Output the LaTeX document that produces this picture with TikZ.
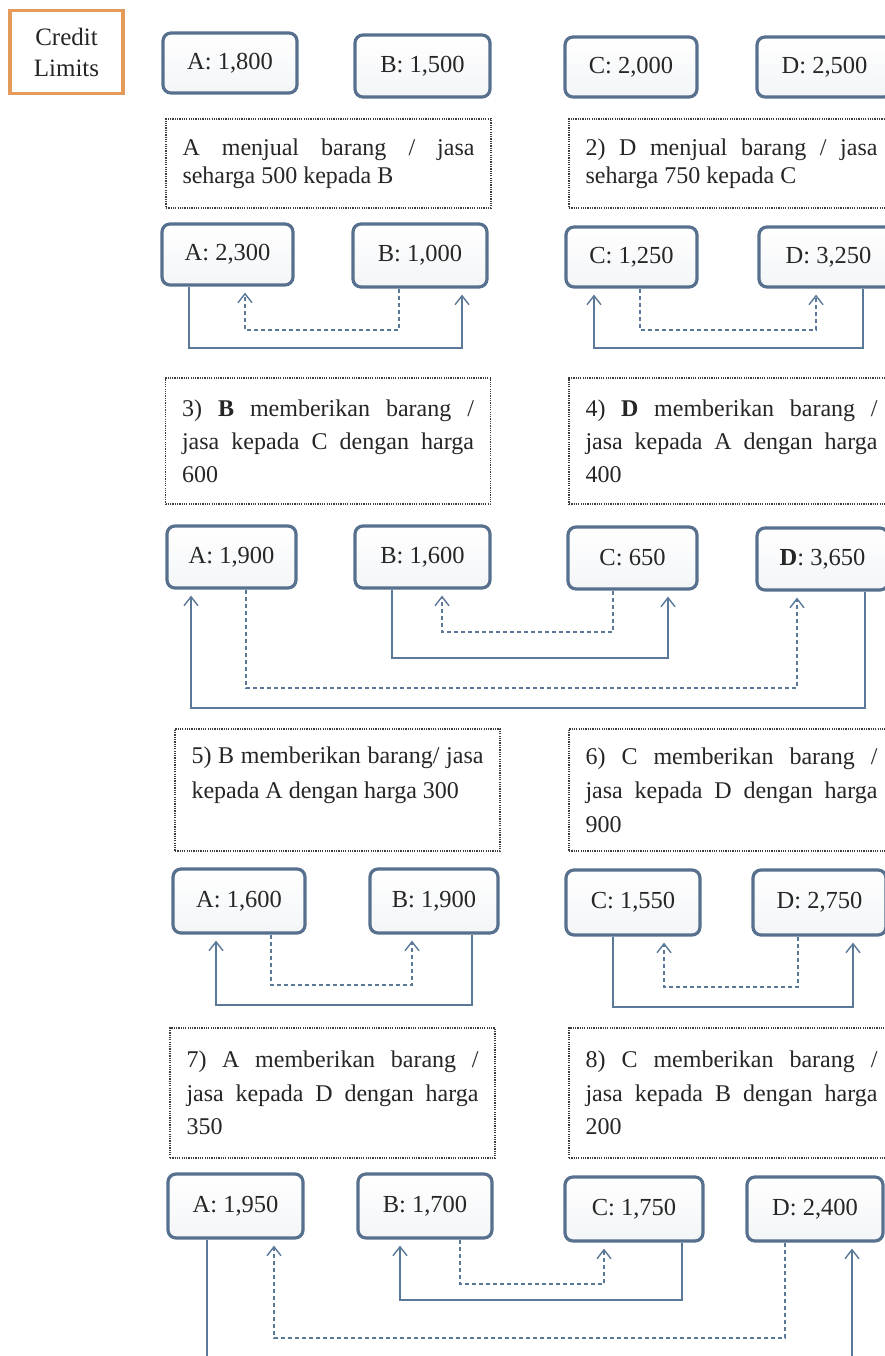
\documentclass[tikz,border=0pt]{standalone}
\usepackage{fontspec}
\setmainfont{Liberation Serif}
\usetikzlibrary{arrows.meta}
\definecolor{boxblue}{HTML}{56708E}
\definecolor{linkblue}{HTML}{5A7898}
\definecolor{txt}{HTML}{262626}
\definecolor{orangeb}{HTML}{E49A58}
\definecolor{dotgray}{HTML}{3E3E3E}
\hbadness=10000
\hfuzz=5pt
\begin{document}
\begin{tikzpicture}[x=1pt,y=-1pt,
  val/.style={draw=boxblue,line width=3.2pt,rounded corners=8pt,top color=white,bottom color=boxblue!7,
    inner sep=0pt,text=txt,font=\fontsize{24.5}{28}\selectfont},
  note/.style={draw=dotgray,line width=1.2pt,dash pattern=on 1.2pt off 1.1pt,fill=white,inner sep=0pt,
    minimum width=325pt,text width=292pt,align=justify,text=txt},
  sol/.style={draw=linkblue,line width=1.6pt},
  das/.style={draw=linkblue,line width=1.4pt,dash pattern=on 4.5pt off 2.5pt},
  tip/.style={-{Straight Barb[length=9pt,width=14pt,line width=1.4pt]},shorten >=6pt}
]
\useasboundingbox (0,0) rectangle (885,1356);
\clip (0,0) rectangle (885,1356);
\fill[white] (0,0) rectangle (885,1356);

% Credit limits
\node[draw=orangeb,line width=3.5pt,fill=white,minimum width=113pt,minimum height=83pt,inner sep=0pt,
  align=center,font=\fontsize{25}{31}\selectfont,text=txt] (CL) at (66.5,52) {Credit\\Limits};

% row 0
\node[val,minimum width=134pt,minimum height=60pt] (A0) at (230,63) {A: 1,800};
\node[val,minimum width=135pt,minimum height=62pt] (B0) at (422.5,66) {B: 1,500};
\node[val,minimum width=132pt,minimum height=60pt] (C0) at (631,67) {C: 2,000};
\node[val,minimum width=135pt,minimum height=60pt] (D0) at (824.5,67) {D: 2,500};

% notes 1-2
\node[note,minimum height=89pt,font=\fontsize{24}{28}\selectfont] (T1) at (328.5,163.5)
  {A menjual barang / jasa\linebreak seharga 500 kepada B};
\node[note,minimum height=89pt,font=\fontsize{24}{28}\selectfont] (T2) at (731.5,163.5)
  {2) D menjual barang / jasa\linebreak seharga 750 kepada C};

% row 1
\node[val,minimum width=131pt,minimum height=61pt] (A1) at (227.5,254.5) {A: 2,300};
\node[val,minimum width=134pt,minimum height=63pt] (B1) at (420,255.5) {B: 1,000};
\node[val,minimum width=131pt,minimum height=60pt] (C1) at (631.5,257) {C: 1,250};
\node[val,minimum width=139pt,minimum height=60pt] (D1) at (828.5,257) {D: 3,250};

\draw[sol,tip] (A1.south -| 189,0) |- (462,348) -- (B1.south -| 462,0);
\draw[das,tip] (B1.south -| 399,0) |- (245,330) -- (A1.south -| 245,0);
\draw[sol,tip] (D1.south -| 863,0) |- (594,348) -- (C1.south -| 594,0);
\draw[das,tip] (C1.south -| 640,0) |- (816,330) -- (D1.south -| 816,0);

% notes 3-4
\node[note,minimum height=126pt,font=\fontsize{24}{33}\selectfont] (T3) at (328,441)
  {3) \textbf{B} memberikan barang /\linebreak jasa kepada C dengan harga\linebreak 600};
\node[note,minimum height=126pt,font=\fontsize{24}{33}\selectfont] (T4) at (731.5,441)
  {4) \textbf{D} memberikan barang /\linebreak jasa kepada A dengan harga\linebreak 400};

% row 2
\node[val,minimum width=129pt,minimum height=62pt] (A2) at (231.5,557) {A: 1,900};
\node[val,minimum width=135pt,minimum height=62pt] (B2) at (422.5,557) {B: 1,600};
\node[val,minimum width=129pt,minimum height=62pt] (C2) at (632.5,558) {C: 650};
\node[val,minimum width=131pt,minimum height=62pt] (D2) at (822.5,559) {\textbf{D}: 3,650};

\draw[sol,tip] (D2.south -| 865,0) |- (191,708) -- (A2.south -| 191,0);
\draw[das,tip] (A2.south -| 246,0) |- (797,688) -- (D2.south -| 797,0);
\draw[sol,tip] (B2.south -| 392,0) |- (668,658) -- (C2.south -| 668,0);
\draw[das,tip] (C2.south -| 613,0) |- (442,632) -- (B2.south -| 442,0);

% notes 5-6
\node[note,minimum height=122pt,font=\fontsize{24}{35}\selectfont] (T5) at (337.5,790)
  {5) B memberikan barang/ jasa\linebreak kepada A dengan harga 300\par\mbox{}};
\node[note,minimum height=122pt,font=\fontsize{24}{34}\selectfont] (T6) at (731.5,790)
  {6) C memberikan barang /\linebreak jasa kepada D dengan harga\linebreak 900};

% row 3
\node[val,minimum width=132pt,minimum height=64pt] (A3) at (239,901) {A: 1,600};
\node[val,minimum width=128pt,minimum height=64pt] (B3) at (434,901) {B: 1,900};
\node[val,minimum width=134pt,minimum height=65pt] (C3) at (633,902.5) {C: 1,550};
\node[val,minimum width=133pt,minimum height=65pt] (D3) at (819.5,902.5) {D: 2,750};

\draw[sol,tip] (B3.south -| 472,0) |- (216,1005) -- (A3.south -| 216,0);
\draw[das,tip] (A3.south -| 271,0) |- (412,985) -- (B3.south -| 412,0);
\draw[sol,tip] (C3.south -| 613,0) |- (853,1007) -- (D3.south -| 853,0);
\draw[das,tip] (D3.south -| 798,0) |- (664,987) -- (C3.south -| 664,0);

% notes 7-8
\node[note,minimum height=130pt,font=\fontsize{24}{33.5}\selectfont] (T7) at (332.5,1093)
  {7) A memberikan barang /\linebreak jasa kepada D dengan harga\linebreak 350};
\node[note,minimum height=130pt,font=\fontsize{24}{33.5}\selectfont] (T8) at (731.5,1093)
  {8) C memberikan barang /\linebreak jasa kepada B dengan harga\linebreak 200};

% row 4
\node[val,minimum width=135pt,minimum height=64pt] (A4) at (235.5,1206) {A: 1,950};
\node[val,minimum width=134pt,minimum height=64pt] (B4) at (425,1206) {B: 1,700};
\node[val,minimum width=138pt,minimum height=64pt] (C4) at (634,1209) {C: 1,750};
\node[val,minimum width=136pt,minimum height=64pt] (D4) at (815,1209) {D: 2,400};

\draw[sol,tip] (A4.south -| 207,0) |- (852,1400) -- (D4.south -| 852,0);
\draw[das,line width=2.2pt,tip] (D4.south -| 785,0) |- (274,1338) -- (A4.south -| 274,0);
\draw[sol,tip] (C4.south -| 682,0) |- (400,1300) -- (B4.south -| 400,0);
\draw[das,tip] (B4.south -| 460,0) |- (604,1284) -- (C4.south -| 604,0);
\end{tikzpicture}
\end{document}
